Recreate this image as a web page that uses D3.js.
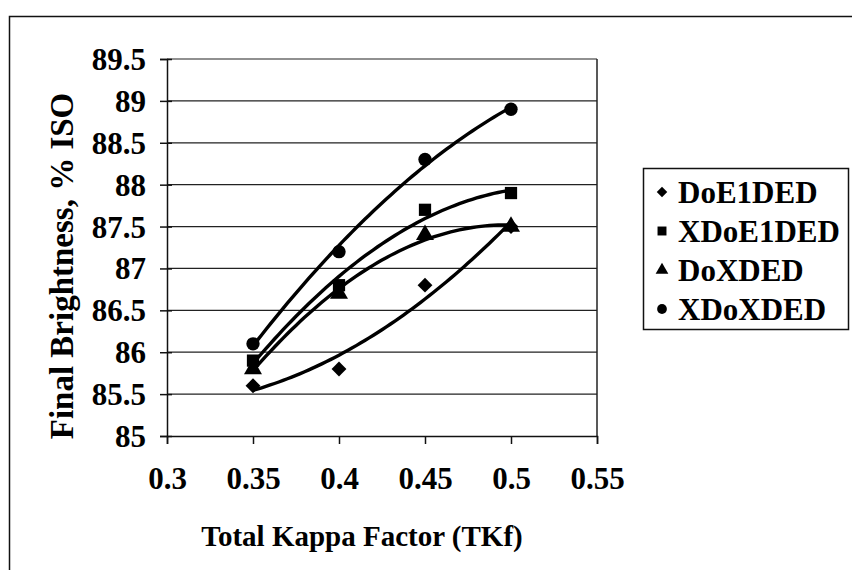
<!DOCTYPE html>
<html>
<head>
<meta charset="utf-8">
<script src="https://cdn.jsdelivr.net/npm/d3@7"></script>
<style>
  html, body { margin: 0; padding: 0; background: #fff; }
  svg { display: block; }
</style>
</head>
<body>
<svg id="chart" width="852" height="570" font-family="Liberation Serif" font-weight="bold"></svg>
<script>
// Total Kappa Factor levels
const kappa = [0.35, 0.4, 0.45, 0.5];

// Final brightness (% ISO) for each bleaching sequence
const seriesNames = ["DoE1DED", "XDoE1DED", "DoXDED", "XDoXDED"];
const doE1DED  = [85.6, 85.8, 86.8, 87.5];
const xDoE1DED = [85.9, 86.8, 87.7, 87.9];
const doXDED   = [85.8, 86.7, 87.4, 87.5];
const xDoXDED  = [86.1, 87.2, 88.3, 88.9];
const seriesSymbols = ["diamond", "square", "triangle", "circle"];

// Axis ticks
const xTicks = [0.3, 0.35, 0.4, 0.45, 0.5, 0.55];
const yTicks = [85, 85.5, 86, 86.5, 87, 87.5, 88, 88.5, 89, 89.5];

const FONT = "Liberation Serif";

const series = [doE1DED, xDoE1DED, doXDED, xDoXDED].map((vals, i) => ({
  name: seriesNames[i],
  symbol: seriesSymbols[i],
  points: kappa.map((k, j) => ({ x: k, y: vals[j] }))
}));

const svg = d3.select("#chart");

function styleText(sel, size) {
  sel.attr("font-family", FONT).attr("font-weight", "bold")
     .attr("font-size", size).attr("fill", "#000");
  return sel;
}

// outer frame
svg.append("rect")
  .attr("x", 9.5).attr("y", 16.5)
  .attr("width", 900).attr("height", 600)
  .attr("fill", "none").attr("stroke", "#111").attr("stroke-width", 1.5);

const plot = { left: 167, right: 597, top: 59, bottom: 436 };

const x = d3.scaleLinear().domain([0.3, 0.55]).range([plot.left, plot.right]);
const y = d3.scaleLinear().domain([85, 89.5]).range([plot.bottom, plot.top]);

// horizontal gridlines
svg.append("g")
  .selectAll("line")
  .data(yTicks.slice(1))
  .join("line")
  .attr("x1", plot.left).attr("x2", plot.right)
  .attr("y1", d => y(d)).attr("y2", d => y(d))
  .attr("stroke", "#222").attr("stroke-width", 1.2);

// right edge of plot area
svg.append("line")
  .attr("x1", plot.right).attr("x2", plot.right)
  .attr("y1", plot.top).attr("y2", plot.bottom)
  .attr("stroke", "#222").attr("stroke-width", 1.5);

// x axis
const xAxis = svg.append("g")
  .attr("transform", `translate(0,${plot.bottom})`)
  .call(d3.axisBottom(x).tickValues(xTicks).tickFormat(d3.format("")).tickSize(8).tickPadding(23));
xAxis.attr("font-family", FONT).attr("font-size", 31).attr("font-weight", "bold");
xAxis.select(".domain").attr("stroke", "#111").attr("stroke-width", 1.5);
xAxis.selectAll(".tick line").attr("stroke", "#111").attr("stroke-width", 1.5);
styleText(xAxis.selectAll("text"), 31);

// y axis
const yAxis = svg.append("g")
  .attr("transform", `translate(${plot.left},0)`)
  .call(d3.axisLeft(y).tickValues(yTicks).tickFormat(d3.format("")).tickSize(7).tickPadding(14));
yAxis.attr("font-family", FONT).attr("font-size", 31).attr("font-weight", "bold");
yAxis.select(".domain").attr("stroke", "#111").attr("stroke-width", 1.5);
yAxis.selectAll(".tick line").attr("stroke", "#111").attr("stroke-width", 1.5).attr("x2", 5).attr("x1", -7);
styleText(yAxis.selectAll("text"), 31).attr("dy", "0.34em");

// axis titles
styleText(svg.append("text"), 29)
  .attr("x", 362).attr("y", 546)
  .attr("text-anchor", "middle")
  .text("Total Kappa Factor (TKf)");

styleText(svg.append("text"), 33)
  .attr("transform", "translate(73,266) rotate(-90)")
  .attr("text-anchor", "middle")
  .text("Final Brightness, % ISO");

// second-order polynomial least-squares trendline
function quadFit(pts) {
  let s = [0, 0, 0, 0, 0], t = [0, 0, 0];
  pts.forEach(p => {
    let xp = 1;
    for (let k = 0; k < 5; k++) { s[k] += xp; if (k < 3) t[k] += xp * p.y; xp *= p.x; }
  });
  const A = [[s[0], s[1], s[2]], [s[1], s[2], s[3]], [s[2], s[3], s[4]]];
  const det = m => m[0][0]*(m[1][1]*m[2][2]-m[1][2]*m[2][1]) - m[0][1]*(m[1][0]*m[2][2]-m[1][2]*m[2][0]) + m[0][2]*(m[1][0]*m[2][1]-m[1][1]*m[2][0]);
  const D = det(A);
  const coef = [0, 1, 2].map(c => {
    const M = A.map((row, r) => row.map((v, k) => k === c ? t[r] : v));
    return det(M) / D;
  });
  return xv => coef[0] + coef[1] * xv + coef[2] * xv * xv;
}

const line = d3.line().x(d => x(d.x)).y(d => y(d.y));

series.forEach(s => {
  const f = quadFit(s.points);
  const x0 = d3.min(s.points, p => p.x), x1 = d3.max(s.points, p => p.x);
  const samples = d3.range(0, 61).map(i => { const xv = x0 + (x1 - x0) * i / 60; return { x: xv, y: f(xv) }; });
  svg.append("path")
    .datum(samples)
    .attr("d", line)
    .attr("fill", "none")
    .attr("stroke", "#000")
    .attr("stroke-width", 3.4)
    .attr("stroke-linejoin", "round");
});

// marker shapes; the diamond is a square turned 45 degrees
function markerPath(kind, size) {
  if (kind === "diamond") return d3.symbol(d3.symbolSquare, size)();
  const t = { square: d3.symbolSquare, triangle: d3.symbolTriangle, circle: d3.symbolCircle }[kind];
  return d3.symbol(t, size)();
}
const markerRotate = kind => kind === "diamond" ? " rotate(45)" : "";
const symbolSize = { diamond: 110, square: 150, triangle: 140, circle: 140 };

series.forEach(s => {
  svg.append("g")
    .selectAll("path")
    .data(s.points)
    .join("path")
    .attr("transform", d => `translate(${x(d.x)},${y(d.y)})${markerRotate(s.symbol)}`)
    .attr("d", markerPath(s.symbol, symbolSize[s.symbol]))
    .attr("fill", "#000");
});

// legend
const legend = svg.append("g").attr("transform", "translate(643,168)");
legend.append("rect")
  .attr("x", 0.5).attr("y", 0.5).attr("width", 205).attr("height", 161)
  .attr("fill", "#fff").attr("stroke", "#111").attr("stroke-width", 1.5);
const legendSize = { diamond: 55, square: 80, triangle: 70, circle: 75 };
series.forEach((s, i) => {
  const cy = 24 + i * 39;
  legend.append("path")
    .attr("transform", `translate(19,${cy})${markerRotate(s.symbol)}`)
    .attr("d", markerPath(s.symbol, legendSize[s.symbol]))
    .attr("fill", "#000");
  styleText(legend.append("text"), 31)
    .attr("x", 35).attr("y", cy + 11)
    .text(s.name);
});
</script>
</body>
</html>
